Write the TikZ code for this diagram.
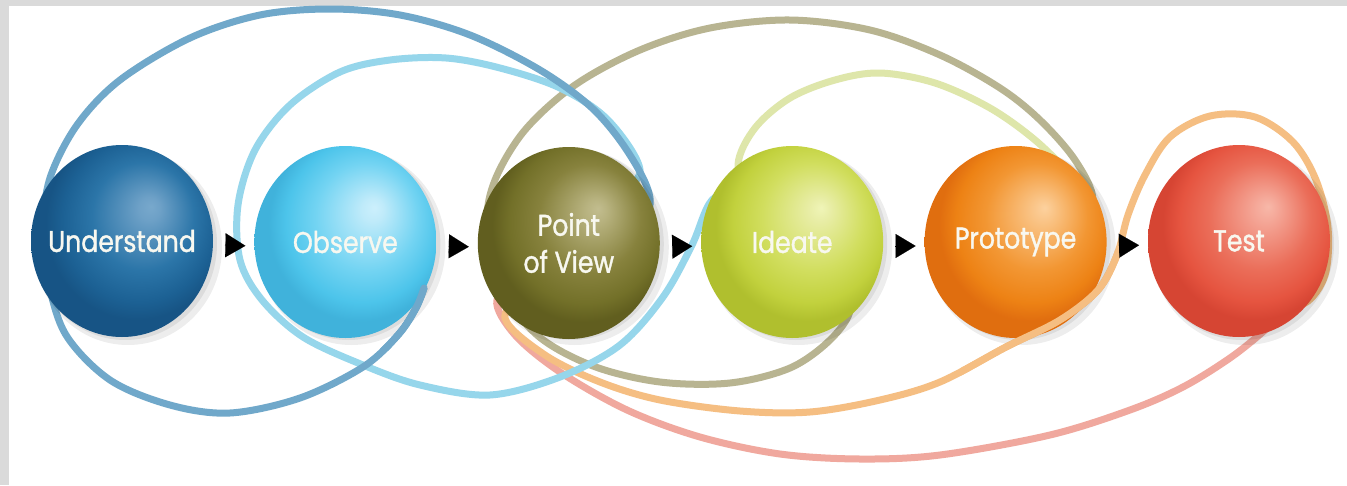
\documentclass[tikz,border=0pt]{standalone}
\usepackage{fontspec}
\newfontfamily\ballfont[FakeStretch=0.84,FakeBold=1.2]{Poppins}
\usetikzlibrary{shapes.geometric,arrows.meta}
\pgfdeclareradialshading{shU}{\pgfpoint{8bp}{9bp}}{rgb(0bp)=(0.47,0.66,0.80); rgb(3bp)=(0.43,0.63,0.78); rgb(14bp)=(0.17,0.46,0.66); rgb(21bp)=(0.11,0.38,0.58); rgb(25bp)=(0.09,0.33,0.52); rgb(50bp)=(0.09,0.33,0.52)}
\pgfdeclareradialshading{shO}{\pgfpoint{8bp}{9bp}}{rgb(0bp)=(0.80,0.94,0.99); rgb(3bp)=(0.75,0.92,0.98); rgb(14bp)=(0.45,0.83,0.95); rgb(21bp)=(0.30,0.77,0.92); rgb(25bp)=(0.25,0.70,0.86); rgb(50bp)=(0.25,0.70,0.86)}
\pgfdeclareradialshading{shP}{\pgfpoint{8bp}{9bp}}{rgb(0bp)=(0.76,0.74,0.56); rgb(3bp)=(0.72,0.70,0.50); rgb(14bp)=(0.53,0.51,0.24); rgb(21bp)=(0.45,0.44,0.16); rgb(25bp)=(0.38,0.37,0.12); rgb(50bp)=(0.38,0.37,0.12)}
\pgfdeclareradialshading{shI}{\pgfpoint{8bp}{9bp}}{rgb(0bp)=(0.94,0.96,0.72); rgb(3bp)=(0.91,0.93,0.65); rgb(14bp)=(0.82,0.87,0.37); rgb(21bp)=(0.76,0.82,0.24); rgb(25bp)=(0.69,0.75,0.18); rgb(50bp)=(0.69,0.75,0.18)}
\pgfdeclareradialshading{shR}{\pgfpoint{8bp}{9bp}}{rgb(0bp)=(0.99,0.82,0.62); rgb(3bp)=(0.98,0.77,0.53); rgb(14bp)=(0.95,0.59,0.20); rgb(21bp)=(0.93,0.51,0.08); rgb(25bp)=(0.88,0.43,0.06); rgb(50bp)=(0.88,0.43,0.06)}
\pgfdeclareradialshading{shT}{\pgfpoint{8bp}{9bp}}{rgb(0bp)=(0.97,0.72,0.66); rgb(3bp)=(0.96,0.66,0.60); rgb(14bp)=(0.92,0.43,0.35); rgb(21bp)=(0.90,0.33,0.25); rgb(25bp)=(0.84,0.27,0.20); rgb(50bp)=(0.84,0.27,0.20)}
\definecolor{framegray}{RGB}{218,218,218}
\definecolor{cA}{RGB}{112,168,202}
\definecolor{cB}{RGB}{150,214,235}
\definecolor{cC}{RGB}{184,180,145}
\definecolor{cD}{RGB}{222,230,170}
\definecolor{cE}{RGB}{245,190,130}
\definecolor{cF}{RGB}{240,168,158}
\definecolor{balltext}{RGB}{248,248,240}
\begin{document}
\begin{tikzpicture}[x=1pt,y=-1pt,
  ball/.style={ellipse, minimum width=182pt, minimum height=192pt, inner xsep=-15pt, inner ysep=0pt, outer sep=0pt,
    shading=#1, text=balltext, align=center,
    font=\ballfont\fontsize{30}{37}\selectfont},
  loopline/.style={draw=#1, line width=7pt, line cap=round},
  ballshadow/.style={fill=black, opacity=0.07},
  steparrow/.style={line width=0.1pt, black, -{Triangle[length=20pt,width=24pt]},
    shorten <=12pt, shorten >=9pt}]
\useasboundingbox (0,0) rectangle (1347,485);
\fill[framegray] (0,0) rectangle (1347,485);
\fill[white] (9,6) rectangle (1347,485);

% loops (behind the balls)
\draw[loopline=cF] plot[smooth,tension=0.55] coordinates {(530,280) (497,300) (515,335) (560,372) (627,410) (700,437) (780,454) (860,459) (940,455) (1050,435) (1130,410) (1183,387) (1230,358) (1265,330) (1290,305) (1275,290)};
\draw[loopline=cE] plot[smooth,tension=0.55] coordinates {(530,285) (505,318) (545,355) (600,382) (660,400) (740,411) (810,412) (880,400) (940,382) (1006,347) (1060,320) (1098,290) (1117,255) (1128,215) (1145,175) (1170,137) (1210,116) (1255,117) (1293,142) (1316,180) (1328,228) (1325,275) (1305,303) (1275,300)};
\draw[loopline=cC] plot[smooth,tension=0.55] coordinates {(1075,235) (1093,200) (1075,160) (1040,120) (1000,88) (940,55) (870,30) (790,20) (710,28) (640,50) (575,85) (525,130) (495,180) (487,225) (500,285) (537,335) (593,366) (660,382) (730,383) (790,368) (830,340) (850,310) (835,285)};
\draw[loopline=cD] plot[smooth,tension=0.55] coordinates {(752,205) (738,165) (755,128) (790,98) (835,80) (880,73) (935,83) (990,108) (1035,140) (1070,175) (1090,205) (1075,240)};
\draw[loopline=cB] plot[smooth,tension=0.55] coordinates {(615,200) (640,170) (608,120) (560,88) (500,68) (446,58) (390,60) (340,72) (290,105) (255,150) (238,205) (240,260) (262,300) (303,337) (363,365) (420,385) (490,395) (560,377) (620,345) (663,297) (692,245) (712,200) (745,185)};
\draw[loopline=cA] plot[smooth,tension=0.55] coordinates {(424,288) (416,308) (398,335) (363,367) (300,398) (230,413) (170,405) (110,380) (66,335) (48,280) (43,230) (50,178) (77,125) (120,80) (190,38) (260,15) (330,9) (400,15) (470,35) (540,70) (592,108) (628,152) (650,198) (640,240)};

% soft shadows
\foreach \cx in {122,345.4,568.8,792.2,1015.6,1239}{
  \fill[ballshadow] (\cx+6,247) ellipse [x radius=94, y radius=98];
  \fill[ballshadow] (\cx+3,244) ellipse [x radius=92, y radius=96];
}

% balls
\node[ball=shU] (u) at (122,241) {Understand};
\node[ball=shO] (o) at (345.4,242) {Observe};
\node[ball=shP] (p) at (568.8,243) {Point\\of View};
\node[ball=shI] (i) at (792.2,242) {Ideate};
\node[ball=shR] (r) at (1015.6,242) {Prototype};

% loop parts lying in front of the balls
\begin{scope}
\clip (960,250) rectangle (1146,420);
\draw[loopline=cE] plot[smooth,tension=0.55] coordinates {(530,285) (505,318) (545,355) (600,382) (660,400) (740,411) (810,412) (880,400) (940,382) (1006,347) (1060,320) (1098,290) (1117,255) (1128,215) (1145,175) (1170,137) (1210,116) (1255,117) (1293,142) (1316,180) (1328,228) (1325,275) (1305,303) (1275,300)};
\end{scope}
\begin{scope}
\clip (380,280) rectangle (440,350);
\draw[loopline=cA] plot[smooth,tension=0.55] coordinates {(424,288) (416,308) (398,335) (363,367) (300,398) (230,413) (170,405) (110,380) (66,335) (48,280) (43,230) (50,178) (77,125) (120,80) (190,38) (260,15) (330,9) (400,15) (470,35) (540,70) (592,108) (628,152) (650,198) (640,240)};
\end{scope}

\node[ball=shT] (t) at (1239,241) {Test};

% step arrows
\draw[steparrow] ([yshift=-4pt]u.east) -- ([yshift=-4pt]o.west);
\draw[steparrow] ([yshift=-4pt]o.east) -- ([yshift=-4pt]p.west);
\draw[steparrow] ([yshift=-4pt]p.east) -- ([yshift=-4pt]i.west);
\draw[steparrow] ([yshift=-4pt]i.east) -- ([yshift=-4pt]r.west);
\draw[steparrow] ([yshift=-4pt]r.east) -- ([yshift=-4pt]t.west);
\end{tikzpicture}
\end{document}
